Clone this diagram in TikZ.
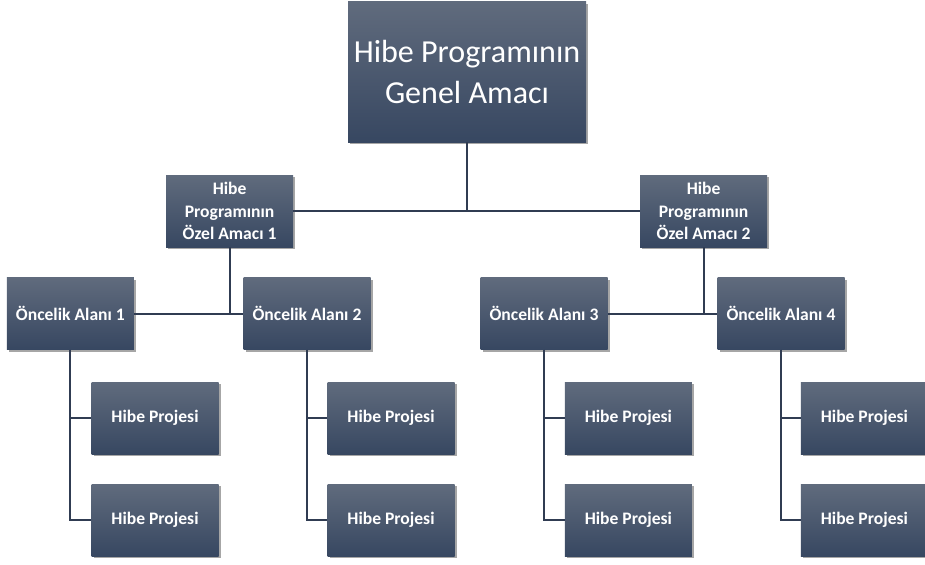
\documentclass[tikz,border=0pt]{standalone}
\usepackage{fontspec}
\setmainfont{Carlito}
\usetikzlibrary{shadows}

\definecolor{boxtop}{RGB}{96,107,125}
\definecolor{boxbottom}{RGB}{55,71,97}
\definecolor{linecol}{RGB}{48,60,82}

\tikzset{
    box/.style={rectangle, top color=boxtop, bottom color=boxbottom, text=white,
        minimum width=3.175cm, minimum height=1.8cm, inner sep=0pt, align=center,
        font=\fontsize{12.5}{16}\selectfont\bfseries,
        drop shadow={shadow xshift=1.5pt, shadow yshift=-1.5pt, opacity=0.35, fill=black}},
    bigbox/.style={box, minimum width=5.95cm, minimum height=3.5cm,
        font=\fontsize{22.8}{29.5}\selectfont},
    link/.style={draw=linecol, line width=1.5pt}
}

\begin{document}
\begin{tikzpicture}
            \useasboundingbox (0,0) rectangle (23.125,14.1);

            \node[bigbox] (genel) at (11.675,12.3) {Hibe Programının\\Genel Amacı};

            \node[box] (ozel1) at (5.74,8.825) {Hibe\\Programının\\Özel Amacı 1};
            \node[box] (ozel2) at (17.59,8.825) {Hibe\\Programının\\Özel Amacı 2};

            \node[box] (alan1) at (1.76,6.26) {Öncelik Alanı 1};
            \node[box] (alan2) at (7.675,6.26) {Öncelik Alanı 2};
            \node[box] (alan3) at (13.6,6.26) {Öncelik Alanı 3};
            \node[box] (alan4) at (19.525,6.26) {Öncelik Alanı 4};

            \node[box] (proje11) at (3.875,3.65) {Hibe Projesi};
            \node[box] (proje12) at (3.875,1.1) {Hibe Projesi};
            \node[box] (proje21) at (9.775,3.65) {Hibe Projesi};
            \node[box] (proje22) at (9.775,1.1) {Hibe Projesi};
            \node[box] (proje31) at (15.71,3.65) {Hibe Projesi};
            \node[box] (proje32) at (15.71,1.1) {Hibe Projesi};
            \node[box] (proje41) at (21.61,3.65) {Hibe Projesi};
            \node[box] (proje42) at (21.61,1.1) {Hibe Projesi};

            % connectors
            \draw[link] (ozel1.east) -- (ozel2.west);
            \draw[link] (genel.south) -- (genel.south |- ozel1.east);

            \draw[link] (alan1.east) -- (alan2.west);
            \draw[link] (ozel1.south) -- (ozel1.south |- alan1.east);
            \draw[link] (alan3.east) -- (alan4.west);
            \draw[link] (ozel2.south) -- (ozel2.south |- alan3.east);

            \draw[link] (alan1.south) |- (proje11.west);
            \draw[link] (alan1.south) |- (proje12.west);
            \draw[link] (alan2.south) |- (proje21.west);
            \draw[link] (alan2.south) |- (proje22.west);
            \draw[link] (alan3.south) |- (proje31.west);
            \draw[link] (alan3.south) |- (proje32.west);
            \draw[link] (alan4.south) |- (proje41.west);
            \draw[link] (alan4.south) |- (proje42.west);
        \end{tikzpicture}
\end{document}
